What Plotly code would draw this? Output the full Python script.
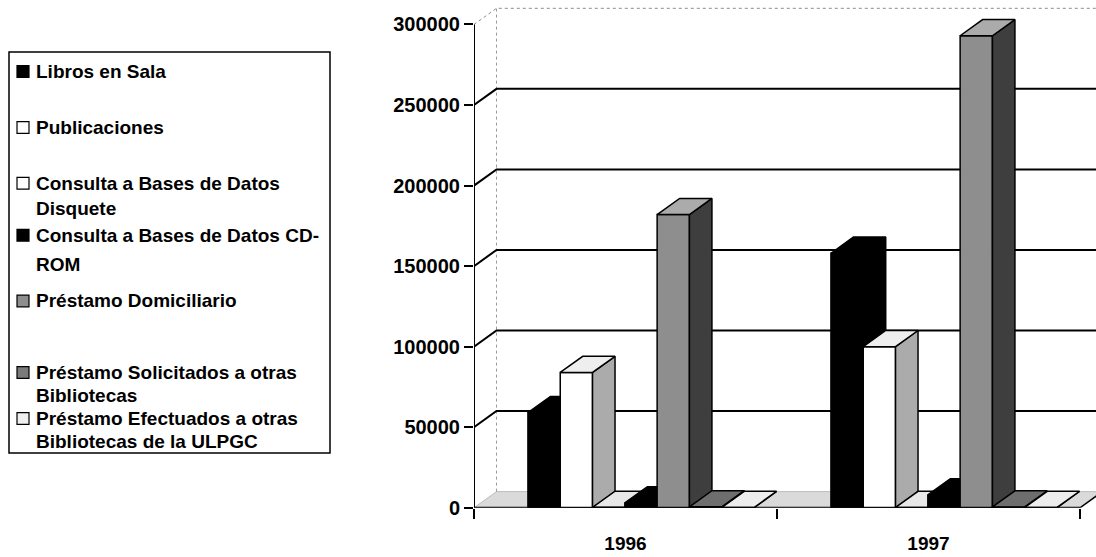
import plotly.graph_objects as go

# ---- data -------------------------------------------------------------
years = ["1996", "1997"]
series_names = [
    "Libros en Sala",
    "Publicaciones",
    "Consulta a Bases de Datos Disquete",
    "Consulta a Bases de Datos CD-ROM",
    "Préstamo Domiciliario",
    "Préstamo Solicitados a otras Bibliotecas",
    "Préstamo Efectuados a otras Bibliotecas de la ULPGC",
]
libros_en_sala = [59000, 158000]
publicaciones = [84000, 100000]
bd_disquete = [250, 180]
bd_cdrom = [3000, 8000]
prestamo_domiciliario = [182000, 293000]
prestamo_solicitados = [600, 500]
prestamo_efectuados = [150, 200]
y_tick_values = [0, 50000, 100000, 150000, 200000, 250000, 300000]

series_values = [libros_en_sala, publicaciones, bd_disquete, bd_cdrom,
                 prestamo_domiciliario, prestamo_solicitados, prestamo_efectuados]

# ---- styles (front, side, top) per series ------------------------------
face_colors = [
    ("#000000", "#000000", "#000000"),
    ("#ffffff", "#ababab", "#eeeeee"),
    ("#ffffff", "#c4c4c4", "#e8e8e8"),
    ("#000000", "#000000", "#000000"),
    ("#8e8e8e", "#3e3e3e", "#ababab"),
    ("#767676", "#404040", "#6e6e6e"),
    ("#ffffff", "#cfcfcf", "#ededed"),
]
swatch_colors = ["#000000", "#ffffff", "#ffffff", "#000000",
                 "#8e8e8e", "#7a7a7a", "#f0f0f0"]

# ---- geometry ---------------------------------------------------------
FIG_W, FIG_H = 1096, 557
AXIS_X_PX = 474          # left edge of the category axis
CAT_PX = 303             # pixels per category
BASE_Y_PX = 518          # pixel row of the value 0
PX_PER_UNIT = 82.17 / 50000
X_MAX = (FIG_W - AXIS_X_PX) / CAT_PX
Y_MAX = BASE_Y_PX / PX_PER_UNIT
DX = 22.5 / CAT_PX              # depth offset in category units
DY = 16.5 / PX_PER_UNIT         # depth offset in value units
BAR_START = 0.178               # first bar's offset inside a category
BAR_W = 0.1066                  # bar width in category units
N_CAT = len(years)

FONT = "Liberation Sans, Arial, sans-serif"

fig = go.Figure()


def poly(xs, ys, fill, line_color="#000000", line_width=1.5, dash=None):
    fig.add_trace(go.Scatter(
        x=list(xs) + [xs[0]], y=list(ys) + [ys[0]],
        mode="lines", fill="toself" if fill else None,
        fillcolor=fill,
        line=dict(color=line_color, width=line_width, dash=dash),
        hoverinfo="skip", showlegend=False,
    ))


def line(xs, ys, color="#000000", width=2, dash=None):
    fig.add_trace(go.Scatter(
        x=xs, y=ys, mode="lines",
        line=dict(color=color, width=width, dash=dash),
        hoverinfo="skip", showlegend=False,
    ))


# floor
poly([0, N_CAT, N_CAT + DX, DX], [0, 0, DY, DY], "#dadada",
     line_color="#bdbdbd", line_width=1)

# back wall edges (faint) and gridlines
top_val = y_tick_values[-1]
line([DX, DX], [DY, top_val + DY], color="#9a9a9a", width=1, dash="dot")
line([0, DX, X_MAX + DX], [top_val, top_val + DY, top_val + DY],
     color="#8a8a8a", width=1, dash="dot")
for v in y_tick_values[1:-1]:
    line([0, DX, X_MAX + DX], [v, v + DY, v + DY], width=2)

# bars, drawn left to right so each one hides its neighbour's side face
for c in range(N_CAT):
    for s, vals in enumerate(series_values):
        v = vals[c]
        xl = c + BAR_START + s * BAR_W
        xr = xl + BAR_W
        front, side, top = face_colors[s]
        poly([xl, xr, xr, xl], [0, 0, v, v], front)
        poly([xr, xr + DX, xr + DX, xr], [0, DY, v + DY, v], side)
        poly([xl, xr, xr + DX, xl + DX], [v, v, v + DY, v + DY], top)

# front floor edge (category axis), right floor edge and value axis
line([0, N_CAT], [0, 0], width=2)
line([N_CAT, N_CAT + DX], [0, DY], width=1.5)
line([0, 0], [0, top_val], width=2)

# ---- legend box, drawn in pixel positions ------------------------------
def px_x(p):
    return p / FIG_W


def px_y(p):
    return 1 - p / FIG_H


shapes = [dict(type="rect", xref="paper", yref="paper",
               x0=px_x(9), x1=px_x(330), y0=px_y(53), y1=px_y(462),
               line=dict(color="#000000", width=1.5), fillcolor="#ffffff")]

legend_lines = [
    ["Libros en Sala"],
    ["Publicaciones"],
    ["Consulta a Bases de Datos", "Disquete"],
    ["Consulta a Bases de Datos CD-", "ROM"],
    ["Préstamo Domiciliario"],
    ["Préstamo Solicitados a otras", "Bibliotecas"],
    ["Préstamo Efectuados a otras", "Bibliotecas de la ULPGC"],
]
legend_rows = [[73], [130], [187, 213], [240, 270], [307], [380, 403], [427, 450]]

annotations = []
for lines_, rows, col in zip(legend_lines, legend_rows, swatch_colors):
    r0 = rows[0]
    shapes.append(dict(type="rect", xref="paper", yref="paper",
                       x0=px_x(17), x1=px_x(29), y0=px_y(r0 + 6), y1=px_y(r0 - 6),
                       line=dict(color="#000000", width=1.2), fillcolor=col))
    for txt, r in zip(lines_, rows):
        annotations.append(dict(
            text=txt, xref="paper", yref="paper", x=px_x(34), y=px_y(r),
            xanchor="left", yanchor="middle", showarrow=False,
            font=dict(family=FONT, size=19, color="#000000", weight="bold"),
        ))

fig.update_layout(
    width=FIG_W, height=FIG_H,
    margin=dict(l=0, r=0, t=0, b=0),
    paper_bgcolor="#ffffff", plot_bgcolor="#ffffff",
    showlegend=False,
    shapes=shapes, annotations=annotations,
    xaxis=dict(
        domain=[AXIS_X_PX / FIG_W, 1], range=[0, X_MAX],
        showgrid=False, zeroline=False, showline=False,
        tickvals=[c + 0.5 for c in range(N_CAT)], ticktext=years,
        ticks="outside", ticklen=18, tickcolor="rgba(0,0,0,0)",
        tickfont=dict(family=FONT, size=19, color="#000000", weight="bold"),
        minor=dict(tickvals=list(range(N_CAT + 1)), ticks="outside",
                   ticklen=10, tickwidth=2, tickcolor="#000000"),
        fixedrange=True,
    ),
    yaxis=dict(
        domain=[1 - BASE_Y_PX / FIG_H, 1], range=[0, Y_MAX],
        showgrid=False, zeroline=False, showline=False,
        tickvals=y_tick_values, ticktext=[str(v) for v in y_tick_values],
        ticks="outside", ticklen=9, tickwidth=2, tickcolor="#000000",
        tickfont=dict(family=FONT, size=20, color="#000000", weight="bold"),
        fixedrange=True,
    ),
)

fig.write_html("out.html")
